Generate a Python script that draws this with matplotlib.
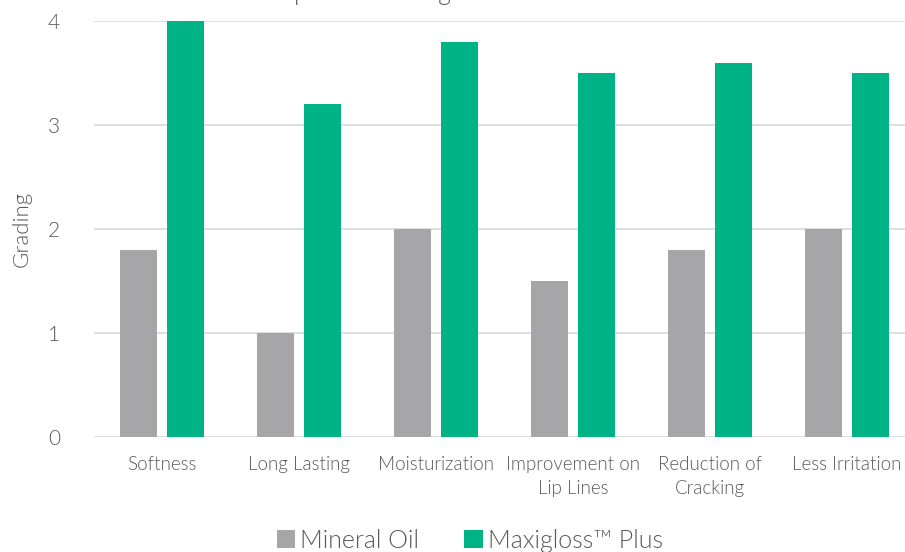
import matplotlib.pyplot as plt
import numpy as np

categories = ["Softness", "Long Lasting", "Moisturization", "Improvement on\nLip Lines",
              "Reduction of\nCracking", "Less Irritation"]
mineral_oil = [1.8, 1.0, 2.0, 1.5, 1.8, 2.0]
maxigloss = [4.0, 3.2, 3.8, 3.5, 3.6, 3.5]

GRAY = "#A6A6A8"
GREEN = "#00B386"
TEXT = "#595959"

plt.rcParams["font.family"] = ["Lato", "DejaVu Sans"]
plt.rcParams["font.weight"] = 300
plt.rcParams["axes.labelweight"] = 300

fig = plt.figure(figsize=(9.05, 5.52), dpi=100)
ax = fig.add_axes([93.5 / 905, 115 / 552, 822 / 905, 416 / 552])

x = np.arange(len(categories))
w = 0.27
ax.bar(x - 0.172, mineral_oil, w, color=GRAY, label="Mineral Oil", zorder=3)
ax.bar(x + 0.172, maxigloss, w, color=GREEN, label="Maxigloss\u2122 Plus", zorder=3)

ax.set_xlim(-0.5, len(categories) - 0.5)
ax.set_ylim(0, 4)
ax.set_yticks([0, 1, 2, 3, 4])
ax.yaxis.grid(True, color="#D9D9D9", linewidth=1.2, zorder=0)
for s in ["top", "right", "left", "bottom"]:
    ax.spines[s].set_visible(False)
ax.tick_params(axis="both", length=0)
ax.tick_params(axis="y", labelsize=15, labelcolor=TEXT, pad=24)
ax.set_xticks(x)
ax.set_xticklabels(categories, fontsize=13.5, color=TEXT, linespacing=1.5)
ax.tick_params(axis="x", pad=14)
ax.set_ylabel("Grading", fontsize=16, color=TEXT, labelpad=12)

fig.text(467 / 905, 1.0, "Lip Care Testing Result Assessment", ha="center",
         va="baseline", fontsize=18, color=TEXT)

fig.legend(loc="center", bbox_to_anchor=(470 / 905, 11 / 552), ncol=2, frameon=False,
           fontsize=18, labelcolor=TEXT, handlelength=0.75, handleheight=0.75,
           handletextpad=0.2, columnspacing=1.8)

fig.savefig("out.png", dpi=100)
